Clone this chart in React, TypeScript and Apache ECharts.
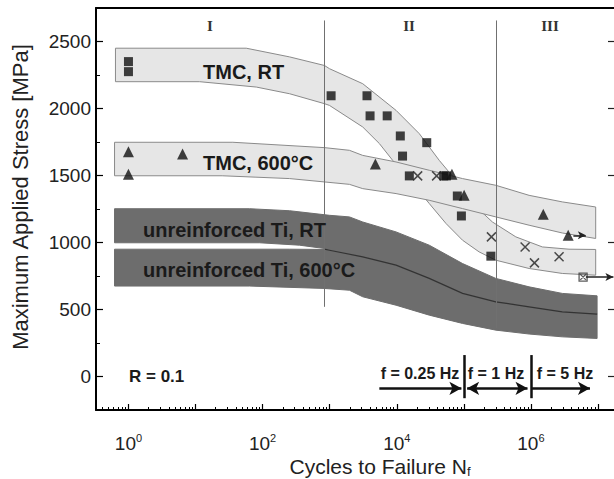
import React, { useEffect, useRef } from "react";
import * as echarts from "echarts";

// ---- data (cycles to failure N, max stress MPa) ----
const tmcRtSquares: number[][] = [
  [1, 2350], [1, 2275], [1050, 2095], [3600, 2095], [4000, 1945], [7200, 1945],
  [11300, 1795], [28000, 1745], [12200, 1645], [15400, 1497], [50000, 1497],
  [55000, 1497], [80000, 1347], [92000, 1198], [253000, 898],
];
const tmc600Triangles: number[][] = [
  [1, 1678], [1, 1510], [6.4, 1660], [4800, 1585], [66500, 1510],
  [101000, 1352], [1.53e6, 1211], [3.6e6, 1054],
];
const crossPoints: number[][] = [
  [20500, 1497], [39300, 1497], [258000, 1042], [820000, 967], [1.13e6, 848], [2.63e6, 893],
];
const runoutBoxed: number[][] = [[6.0e6, 742]];

// scatter bands: upper and lower boundaries [N, MPa]
const tmcRtUpper: number[][] = [
  [0.64, 2450], [57, 2450], [253, 2385], [837, 2321], [993, 2297], [3110, 2185],
  [9770, 1986], [21700, 1812], [43000, 1613], [76300, 1464], [135000, 1291],
  [267000, 1153], [596000, 1042], [1.48e6, 967], [3.7e6, 950], [9.25e6, 948],
];
const tmcRtLower: number[][] = [
  [0.64, 2200], [11.5, 2200], [80.6, 2160], [253, 2110], [837, 2036], [993, 2023],
  [3110, 1862], [5510, 1738], [8690, 1613], [17300, 1440], [30500, 1291],
  [54200, 1142], [95700, 1017], [169000, 930], [300000, 868], [940000, 806],
  [2.94e6, 769], [9.25e6, 756],
];
const tmc600Upper: number[][] = [
  [0.62, 1748], [36, 1748], [837, 1708], [1970, 1688], [3110, 1650], [9770, 1601],
  [30500, 1539], [95700, 1477], [300000, 1427], [940000, 1352], [2.94e6, 1303],
  [9.25e6, 1265],
];
const tmc600Lower: number[][] = [
  [0.62, 1498], [25, 1498], [253, 1477], [1970, 1434], [3110, 1402], [9770, 1365],
  [30500, 1315], [95700, 1253], [300000, 1191], [940000, 1129], [2.94e6, 1071],
  [9.25e6, 1030],
];
const tiRtUpper: number[][] = [
  [0.62, 1252], [64, 1252], [253, 1237], [993, 1203], [1970, 1191], [3110, 1153],
  [9770, 1079], [30500, 980], [95700, 843], [300000, 732], [940000, 669],
  [2.94e6, 620], [9.7e6, 602],
];
const tiRtLower: number[][] = [
  [0.62, 998], [90, 998], [355, 980], [837, 955], [993, 942], [3110, 893],
  [9770, 831], [30500, 732], [95700, 620], [300000, 557], [940000, 520],
  [2.94e6, 483], [9.7e6, 466],
];
const ti600Upper: number[][] = [
  [0.62, 950], [253, 950], [837, 948], [993, 942], [3110, 893], [9770, 831],
  [30500, 732], [95700, 620], [300000, 557], [940000, 520], [2.94e6, 483], [9.7e6, 466],
];
const ti600Lower: number[][] = [
  [0.62, 675], [64, 675], [837, 657], [1970, 644], [3110, 595], [9770, 532],
  [30500, 458], [95700, 396], [300000, 346], [940000, 317], [2.94e6, 296], [9.7e6, 284],
];
const tiDivider: number[][] = [
  [837, 950], [993, 942], [3110, 893], [9770, 831], [30500, 732], [95700, 620],
  [300000, 557], [940000, 520], [2.94e6, 483], [9.7e6, 466],
];

// region boundaries [N, top MPa, bottom MPa]
const regionLines: number[][] = [[830, 2657, 520], [3.0e5, 2657, 359]];
// frequency ranges [fromN, toN]
const freqArrows: number[][] = [[5500, 92000], [112000, 890000], [1.04e6, 7.6e6]];
const freqSeparators: number[] = [1e5, 1e6];
const runoutArrows: number[][] = [[4.3e6, 6.6e6, 1054], [6.6e6, 1.7e7, 742]];

// axes
const xLabelExponents = [0, 2, 4, 6];
const xMajorExponents = [0, 1, 2, 3, 4, 5, 6, 7];
const xMinorMultipliers = [2, 3, 4, 5, 6, 7, 8, 9];
const xDecades = [-1, 0, 1, 2, 3, 4, 5, 6, 7];
const yTickValues = [0, 500, 1000, 1500, 2000, 2500];
const yMinorTickValues = [250, 750, 1250, 1750, 2250];

const X_MIN = -0.484;
const X_MAX = 7.239;
const Y_MIN = -250;
const Y_MAX = 2750;

const SANS = '"Liberation Sans", Arial, Helvetica, sans-serif';
const SERIF = '"Liberation Serif", "Times New Roman", serif';

const L = (n: number) => Math.log10(n);
const toXY = (arr: number[][]) => arr.map((p) => [L(p[0]), p[1]]);

export default function App() {
  const ref = useRef<HTMLDivElement>(null);

  useEffect(() => {
    if (!ref.current) return;
    const chart = echarts.init(ref.current, undefined, { renderer: "svg" });

    const minorTicks: number[] = [];
    xDecades.forEach((d) =>
      xMinorMultipliers.forEach((m) => {
        const v = d + L(m);
        if (v > X_MIN && v < X_MAX) minorTicks.push(v);
      })
    );

    const band = (upper: number[][], lower: number[][], fill: string, stroke: string) => ({
      type: "custom",
      coordinateSystem: "cartesian2d",
      silent: true,
      data: [[0, 0]],
      renderItem: (_p: any, api: any) => {
        const pts = upper
          .map((p) => api.coord([L(p[0]), p[1]]))
          .concat(lower.slice().reverse().map((p) => api.coord([L(p[0]), p[1]])));
        return {
          type: "polygon",
          shape: { points: pts },
          style: { fill, stroke, lineWidth: 1 },
        };
      },
    });

    const divider = {
      type: "custom",
      coordinateSystem: "cartesian2d",
      silent: true,
      data: [[0, 0]],
      renderItem: (_p: any, api: any) => ({
        type: "polyline",
        shape: { points: tiDivider.map((p) => api.coord([L(p[0]), p[1]])) },
        style: { fill: "none", stroke: "#333", lineWidth: 1.2 },
      }),
    };

    const txt = (text: string, x: number, y: number, font: string, align = "center", fill = "#1a1a1a") => ({
      type: "text",
      x,
      y,
      silent: true,
      z: 100,
      style: { text, font, fill, align, verticalAlign: "middle", textAlign: align, textVerticalAlign: "middle" },
    });

    const option: any = {
      animation: false,
      backgroundColor: "#fff",
      grid: { left: 96, top: 8, width: 519, height: 402, containLabel: false },
      xAxis: [
        {
          type: "value",
          min: X_MIN,
          max: X_MAX,
          position: "bottom",
          splitLine: { show: false },
          axisLine: { show: true, onZero: false, lineStyle: { color: "#000", width: 2 } },
          axisTick: { show: true, inside: true, length: 6, customValues: xMajorExponents, lineStyle: { color: "#000", width: 1.2 } },
          axisLabel: {
            show: true,
            customValues: xLabelExponents,
            margin: 22,
            formatter: (v: number) => `{b|10}{p|${Math.round(v)}}`,
            rich: {
              b: { fontSize: 19, fontFamily: SANS, color: "#222", lineHeight: 22 },
              p: { fontSize: 11, fontFamily: SANS, color: "#222", lineHeight: 10, verticalAlign: "top" },
            },
          },
        },
        {
          type: "value",
          min: X_MIN,
          max: X_MAX,
          position: "bottom",
          splitLine: { show: false },
          axisLine: { show: false, onZero: false },
          axisTick: { show: true, inside: true, length: 3, customValues: minorTicks, lineStyle: { color: "#000", width: 1 } },
          axisLabel: { show: false },
        },
        {
          type: "value",
          min: X_MIN,
          max: X_MAX,
          position: "top",
          splitLine: { show: false },
          axisLine: { show: true, onZero: false, lineStyle: { color: "#000", width: 2 } },
          axisTick: { show: false },
          axisLabel: { show: false },
        },
      ],
      yAxis: [
        {
          type: "value",
          min: Y_MIN,
          max: Y_MAX,
          position: "left",
          splitLine: { show: false },
          axisLine: { show: true, onZero: false, lineStyle: { color: "#000", width: 2 } },
          axisTick: { show: true, inside: true, length: 7, customValues: yTickValues, lineStyle: { color: "#000", width: 1.2 } },
          axisLabel: {
            show: true,
            customValues: yTickValues,
            margin: 5,
            fontSize: 19,
            fontFamily: SANS,
            color: "#222",
            formatter: (v: number) => String(Math.round(v)),
          },
        },
        {
          type: "value",
          min: Y_MIN,
          max: Y_MAX,
          position: "left",
          splitLine: { show: false },
          axisLine: { show: false, onZero: false },
          axisTick: { show: true, inside: true, length: 4, customValues: yMinorTickValues, lineStyle: { color: "#000", width: 1 } },
          axisLabel: { show: false },
        },
        {
          type: "value",
          min: Y_MIN,
          max: Y_MAX,
          position: "right",
          splitLine: { show: false },
          axisLine: { show: false, onZero: false },
          axisTick: { show: true, inside: true, length: 6, customValues: yTickValues, lineStyle: { color: "#222", width: 1.2 } },
          axisLabel: { show: false },
        },
      ],
      series: [
        band(tmcRtUpper, tmcRtLower, "#e6e6e6", "#8a8a8a"),
        band(tmc600Upper, tmc600Lower, "#e6e6e6", "#8a8a8a"),
        band(tiRtUpper, tiRtLower, "#6d6d6d", "#6d6d6d"),
        band(ti600Upper, ti600Lower, "#6d6d6d", "#6d6d6d"),
        divider,
        {
          type: "line",
          data: [],
          silent: true,
          markLine: {
            silent: true,
            symbol: ["none", "none"],
            label: { show: false },
            lineStyle: { color: "#707070", width: 1, type: "solid" },
            data: regionLines.map((r) => [
              { coord: [L(r[0]), r[1]] },
              { coord: [L(r[0]), r[2]] },
            ]),
          },
        },
        {
          type: "scatter",
          data: toXY(tmcRtSquares),
          symbol: "rect",
          symbolSize: 9,
          itemStyle: { color: "#111" },
          silent: true,
        },
        {
          type: "scatter",
          data: toXY(tmc600Triangles),
          symbol: "triangle",
          symbolSize: 11,
          itemStyle: { color: "#111" },
          silent: true,
        },
        {
          type: "scatter",
          data: toXY(crossPoints),
          symbol: "path://M0,0L10,10M10,0L0,10",
          symbolSize: 9,
          itemStyle: { color: "rgba(0,0,0,0)", borderColor: "#222", borderWidth: 1.5 },
          silent: true,
        },
        {
          type: "scatter",
          data: toXY(runoutBoxed),
          symbol: "path://M0,0L10,0L10,10L0,10Z M1.5,1.5L8.5,8.5 M8.5,1.5L1.5,8.5",
          symbolSize: 8,
          itemStyle: { color: "rgba(0,0,0,0)", borderColor: "#333", borderWidth: 1.3 },
          silent: true,
        },
        {
          type: "line",
          data: [],
          silent: true,
          markLine: {
            silent: true,
            label: { show: false },
            symbolSize: [6, 8],
            lineStyle: { color: "#222", width: 1.5, type: "solid" },
            data: runoutArrows.map((a) => [
              { coord: [L(a[0]), a[2]], symbol: "none" },
              { coord: [L(a[1]), a[2]], symbol: "arrow" },
            ]),
          },
        },
        {
          type: "line",
          data: [],
          silent: true,
          markLine: {
            silent: true,
            label: { show: false },
            symbolSize: [10, 12],
            lineStyle: { color: "#111", width: 2.5, type: "solid" },
            data: freqArrows.map((a, i) => [
              { coord: [L(a[0]), -88], symbol: i === 1 ? "arrow" : "none" },
              { coord: [L(a[1]), -88], symbol: "arrow" },
            ]),
          },
        },
        {
          type: "line",
          data: [],
          silent: true,
          markLine: {
            silent: true,
            label: { show: false },
            symbol: ["none", "none"],
            lineStyle: { color: "#111", width: 2.5, type: "solid" },
            data: freqSeparators.map((n) => [
              { coord: [L(n), 160] },
              { coord: [L(n), -162] },
            ]),
          },
        },
      ],
      graphic: [
        txt("I", 210, 26, `bold 15px ${SERIF}`, "center", "#333"),
        txt("II", 409, 26, `bold 15px ${SERIF}`, "center", "#333"),
        txt("III", 550, 26, `bold 15px ${SERIF}`, "center", "#333"),
        txt("TMC, RT", 203, 72, `bold 20px ${SANS}`, "left"),
        txt("TMC, 600°C", 203, 163, `bold 20px ${SANS}`, "left"),
        txt("unreinforced Ti, RT", 143, 230, `bold 20px ${SANS}`, "left"),
        txt("unreinforced Ti, 600°C", 143, 270, `bold 20px ${SANS}`, "left"),
        txt("R = 0.1", 129, 376, `bold 17px ${SANS}`, "left"),
        txt("f = 0.25 Hz", 420, 373, `bold 16px ${SANS}`, "center"),
        txt("f = 1 Hz", 496, 373, `bold 16px ${SANS}`, "center"),
        txt("f = 5 Hz", 565, 373, `bold 16px ${SANS}`, "center"),
        {
          type: "text",
          x: 20,
          y: 197,
          rotation: Math.PI / 2,
          silent: true,
          z: 100,
          style: {
            text: "Maximum Applied Stress [MPa]",
            font: `22px ${SANS}`,
            fill: "#222",
            align: "center",
            verticalAlign: "middle",
            textAlign: "center",
            textVerticalAlign: "middle",
          },
        },
        {
          type: "text",
          x: 380,
          y: 466,
          silent: true,
          z: 100,
          style: {
            text: "{a|Cycles to Failure N}{s|f}",
            align: "center",
            verticalAlign: "middle",
            textAlign: "center",
            textVerticalAlign: "middle",
            rich: {
              a: { fontSize: 21, fontFamily: SANS, fill: "#222", color: "#222", lineHeight: 24 },
              s: { fontSize: 13, fontFamily: SANS, fill: "#222", color: "#222", lineHeight: 13, verticalAlign: "bottom" },
            },
          },
        },
      ],
    };

    chart.setOption(option);
    return () => chart.dispose();
  }, []);

  return (
    <div
      ref={ref}
      style={{ position: "fixed", left: 0, top: 0, width: 614, height: 479, background: "#fff" }}
    />
  );
}
